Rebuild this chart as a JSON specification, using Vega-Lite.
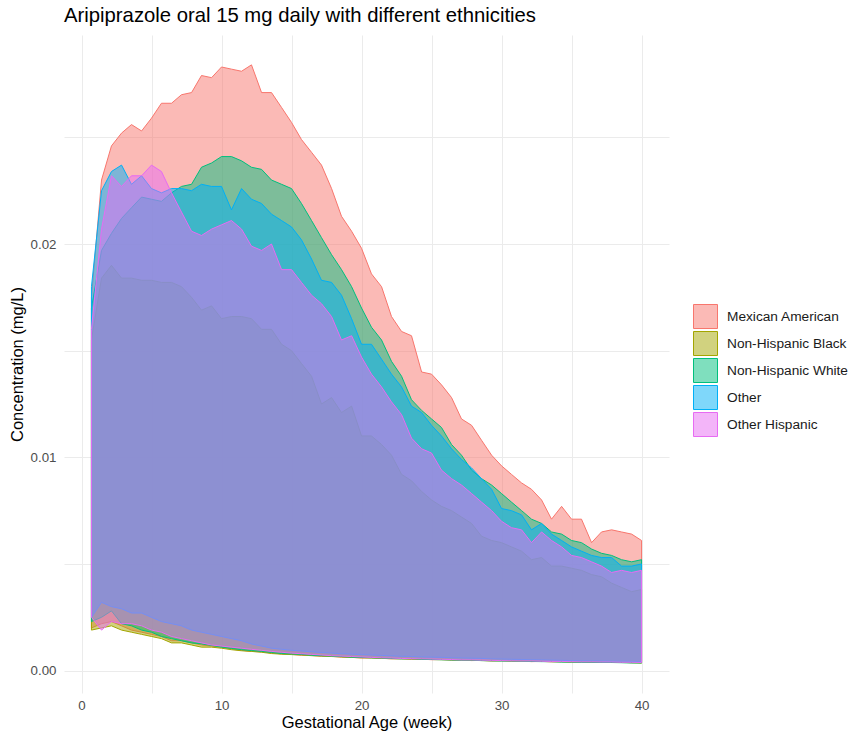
{
  "$schema": "https://vega.github.io/schema/vega-lite/v6.json",
  "autosize": {"type": "none"},
  "width": 605,
  "height": 658,
  "padding": {"left": 64, "top": 35, "right": 182, "bottom": 44},
  "background": "white",
  "title": {
    "text": "Aripiprazole oral 15 mg daily with different ethnicities",
    "anchor": "start",
    "frame": "group",
    "font": "Liberation Sans",
    "fontSize": 20.3,
    "fontWeight": "normal",
    "color": "#000000",
    "baseline": "alphabetic",
    "offset": 11,
    "dy": 18
  },
  "data": {
    "values": [
      {"g":"Mexican American","w":0.71,"lo":0.0020,"hi":0.0175},
      {"g":"Mexican American","w":1.43,"lo":0.0022,"hi":0.0230},
      {"g":"Mexican American","w":2.14,"lo":0.0023,"hi":0.0246},
      {"g":"Mexican American","w":2.86,"lo":0.0021,"hi":0.0252},
      {"g":"Mexican American","w":3.57,"lo":0.0019,"hi":0.0256},
      {"g":"Mexican American","w":4.29,"lo":0.0018,"hi":0.0253},
      {"g":"Mexican American","w":5.0,"lo":0.0017,"hi":0.0259},
      {"g":"Mexican American","w":5.71,"lo":0.0016,"hi":0.0266},
      {"g":"Mexican American","w":6.43,"lo":0.0014,"hi":0.0266},
      {"g":"Mexican American","w":7.14,"lo":0.0014,"hi":0.0270},
      {"g":"Mexican American","w":7.86,"lo":0.0013,"hi":0.0271},
      {"g":"Mexican American","w":8.57,"lo":0.0012,"hi":0.0279},
      {"g":"Mexican American","w":9.29,"lo":0.00115,"hi":0.0278},
      {"g":"Mexican American","w":10.0,"lo":0.0011,"hi":0.0283},
      {"g":"Mexican American","w":10.71,"lo":0.00102,"hi":0.0282},
      {"g":"Mexican American","w":11.43,"lo":0.00095,"hi":0.0281},
      {"g":"Mexican American","w":12.14,"lo":0.0009,"hi":0.0284},
      {"g":"Mexican American","w":12.86,"lo":0.00088,"hi":0.0271},
      {"g":"Mexican American","w":13.57,"lo":0.00083,"hi":0.0271},
      {"g":"Mexican American","w":14.29,"lo":0.00078,"hi":0.0264},
      {"g":"Mexican American","w":15.0,"lo":0.00076,"hi":0.0257},
      {"g":"Mexican American","w":15.71,"lo":0.00072,"hi":0.0249},
      {"g":"Mexican American","w":16.43,"lo":0.00071,"hi":0.0243},
      {"g":"Mexican American","w":17.14,"lo":0.00067,"hi":0.0237},
      {"g":"Mexican American","w":17.86,"lo":0.00067,"hi":0.0226},
      {"g":"Mexican American","w":18.57,"lo":0.00063,"hi":0.0213},
      {"g":"Mexican American","w":19.29,"lo":0.00062,"hi":0.0206},
      {"g":"Mexican American","w":20.0,"lo":0.00059,"hi":0.0198},
      {"g":"Mexican American","w":20.71,"lo":0.0006,"hi":0.0186},
      {"g":"Mexican American","w":21.43,"lo":0.00058,"hi":0.0180},
      {"g":"Mexican American","w":22.14,"lo":0.00055,"hi":0.0166},
      {"g":"Mexican American","w":22.86,"lo":0.00056,"hi":0.0159},
      {"g":"Mexican American","w":23.57,"lo":0.00053,"hi":0.0157},
      {"g":"Mexican American","w":24.29,"lo":0.00054,"hi":0.0140},
      {"g":"Mexican American","w":25.0,"lo":0.00051,"hi":0.0139},
      {"g":"Mexican American","w":25.71,"lo":0.00052,"hi":0.0134},
      {"g":"Mexican American","w":26.43,"lo":0.00049,"hi":0.0128},
      {"g":"Mexican American","w":27.14,"lo":0.0005,"hi":0.0118},
      {"g":"Mexican American","w":27.86,"lo":0.00047,"hi":0.0115},
      {"g":"Mexican American","w":28.57,"lo":0.00048,"hi":0.0108},
      {"g":"Mexican American","w":29.29,"lo":0.00045,"hi":0.0101},
      {"g":"Mexican American","w":30.0,"lo":0.00046,"hi":0.0096},
      {"g":"Mexican American","w":30.71,"lo":0.00044,"hi":0.0092},
      {"g":"Mexican American","w":31.43,"lo":0.00045,"hi":0.0088},
      {"g":"Mexican American","w":32.14,"lo":0.00042,"hi":0.0085},
      {"g":"Mexican American","w":32.86,"lo":0.00043,"hi":0.0080},
      {"g":"Mexican American","w":33.57,"lo":0.00041,"hi":0.0071},
      {"g":"Mexican American","w":34.29,"lo":0.00042,"hi":0.0077},
      {"g":"Mexican American","w":35.0,"lo":0.0004,"hi":0.0071},
      {"g":"Mexican American","w":35.71,"lo":0.00041,"hi":0.0071},
      {"g":"Mexican American","w":36.43,"lo":0.00039,"hi":0.0060},
      {"g":"Mexican American","w":37.14,"lo":0.0004,"hi":0.0065},
      {"g":"Mexican American","w":37.86,"lo":0.00038,"hi":0.0066},
      {"g":"Mexican American","w":38.57,"lo":0.00039,"hi":0.0065},
      {"g":"Mexican American","w":39.29,"lo":0.00037,"hi":0.0064},
      {"g":"Mexican American","w":40.0,"lo":0.00038,"hi":0.0061},

      {"g":"Non-Hispanic Black","w":0.71,"lo":0.0019,"hi":0.0155},
      {"g":"Non-Hispanic Black","w":1.43,"lo":0.0020,"hi":0.0184},
      {"g":"Non-Hispanic Black","w":2.14,"lo":0.0021,"hi":0.0190},
      {"g":"Non-Hispanic Black","w":2.86,"lo":0.0019,"hi":0.0184},
      {"g":"Non-Hispanic Black","w":3.57,"lo":0.0018,"hi":0.0184},
      {"g":"Non-Hispanic Black","w":4.29,"lo":0.0017,"hi":0.0183},
      {"g":"Non-Hispanic Black","w":5.0,"lo":0.0016,"hi":0.0183},
      {"g":"Non-Hispanic Black","w":5.71,"lo":0.0015,"hi":0.0182},
      {"g":"Non-Hispanic Black","w":6.43,"lo":0.0013,"hi":0.0182},
      {"g":"Non-Hispanic Black","w":7.14,"lo":0.0013,"hi":0.0180},
      {"g":"Non-Hispanic Black","w":7.86,"lo":0.0012,"hi":0.0175},
      {"g":"Non-Hispanic Black","w":8.57,"lo":0.0011,"hi":0.0169},
      {"g":"Non-Hispanic Black","w":9.29,"lo":0.0011,"hi":0.0171},
      {"g":"Non-Hispanic Black","w":10.0,"lo":0.00105,"hi":0.0165},
      {"g":"Non-Hispanic Black","w":10.71,"lo":0.00098,"hi":0.0166},
      {"g":"Non-Hispanic Black","w":11.43,"lo":0.00093,"hi":0.0166},
      {"g":"Non-Hispanic Black","w":12.14,"lo":0.0009,"hi":0.0165},
      {"g":"Non-Hispanic Black","w":12.86,"lo":0.00086,"hi":0.0160},
      {"g":"Non-Hispanic Black","w":13.57,"lo":0.0008,"hi":0.0160},
      {"g":"Non-Hispanic Black","w":14.29,"lo":0.00077,"hi":0.0153},
      {"g":"Non-Hispanic Black","w":15.0,"lo":0.00075,"hi":0.0150},
      {"g":"Non-Hispanic Black","w":15.71,"lo":0.00073,"hi":0.0144},
      {"g":"Non-Hispanic Black","w":16.43,"lo":0.0007,"hi":0.0138},
      {"g":"Non-Hispanic Black","w":17.14,"lo":0.00068,"hi":0.0125},
      {"g":"Non-Hispanic Black","w":17.86,"lo":0.00066,"hi":0.0128},
      {"g":"Non-Hispanic Black","w":18.57,"lo":0.00064,"hi":0.0121},
      {"g":"Non-Hispanic Black","w":19.29,"lo":0.00062,"hi":0.0124},
      {"g":"Non-Hispanic Black","w":20.0,"lo":0.0006,"hi":0.0110},
      {"g":"Non-Hispanic Black","w":20.71,"lo":0.00059,"hi":0.0110},
      {"g":"Non-Hispanic Black","w":21.43,"lo":0.00057,"hi":0.0106},
      {"g":"Non-Hispanic Black","w":22.14,"lo":0.00056,"hi":0.0101},
      {"g":"Non-Hispanic Black","w":22.86,"lo":0.00055,"hi":0.0092},
      {"g":"Non-Hispanic Black","w":23.57,"lo":0.00054,"hi":0.0089},
      {"g":"Non-Hispanic Black","w":24.29,"lo":0.00053,"hi":0.0084},
      {"g":"Non-Hispanic Black","w":25.0,"lo":0.00052,"hi":0.0080},
      {"g":"Non-Hispanic Black","w":25.71,"lo":0.00051,"hi":0.0077},
      {"g":"Non-Hispanic Black","w":26.43,"lo":0.0005,"hi":0.0075},
      {"g":"Non-Hispanic Black","w":27.14,"lo":0.00049,"hi":0.0072},
      {"g":"Non-Hispanic Black","w":27.86,"lo":0.00048,"hi":0.0069},
      {"g":"Non-Hispanic Black","w":28.57,"lo":0.00047,"hi":0.0063},
      {"g":"Non-Hispanic Black","w":29.29,"lo":0.00046,"hi":0.0061},
      {"g":"Non-Hispanic Black","w":30.0,"lo":0.00046,"hi":0.0060},
      {"g":"Non-Hispanic Black","w":30.71,"lo":0.00045,"hi":0.0058},
      {"g":"Non-Hispanic Black","w":31.43,"lo":0.00044,"hi":0.0056},
      {"g":"Non-Hispanic Black","w":32.14,"lo":0.00043,"hi":0.0052},
      {"g":"Non-Hispanic Black","w":32.86,"lo":0.00043,"hi":0.0053},
      {"g":"Non-Hispanic Black","w":33.57,"lo":0.00042,"hi":0.0049},
      {"g":"Non-Hispanic Black","w":34.29,"lo":0.00041,"hi":0.0049},
      {"g":"Non-Hispanic Black","w":35.0,"lo":0.0004,"hi":0.0048},
      {"g":"Non-Hispanic Black","w":35.71,"lo":0.0004,"hi":0.0047},
      {"g":"Non-Hispanic Black","w":36.43,"lo":0.0004,"hi":0.0045},
      {"g":"Non-Hispanic Black","w":37.14,"lo":0.00039,"hi":0.0044},
      {"g":"Non-Hispanic Black","w":37.86,"lo":0.00038,"hi":0.0041},
      {"g":"Non-Hispanic Black","w":38.57,"lo":0.00038,"hi":0.0039},
      {"g":"Non-Hispanic Black","w":39.29,"lo":0.00037,"hi":0.0037},
      {"g":"Non-Hispanic Black","w":40.0,"lo":0.00035,"hi":0.0038},

      {"g":"Non-Hispanic White","w":0.71,"lo":0.0023,"hi":0.0170},
      {"g":"Non-Hispanic White","w":1.43,"lo":0.0025,"hi":0.0197},
      {"g":"Non-Hispanic White","w":2.14,"lo":0.0028,"hi":0.0205},
      {"g":"Non-Hispanic White","w":2.86,"lo":0.0022,"hi":0.0212},
      {"g":"Non-Hispanic White","w":3.57,"lo":0.0021,"hi":0.0217},
      {"g":"Non-Hispanic White","w":4.29,"lo":0.0019,"hi":0.0222},
      {"g":"Non-Hispanic White","w":5.0,"lo":0.0018,"hi":0.0221},
      {"g":"Non-Hispanic White","w":5.71,"lo":0.0016,"hi":0.0220},
      {"g":"Non-Hispanic White","w":6.43,"lo":0.0015,"hi":0.0224},
      {"g":"Non-Hispanic White","w":7.14,"lo":0.0014,"hi":0.0227},
      {"g":"Non-Hispanic White","w":7.86,"lo":0.0013,"hi":0.0228},
      {"g":"Non-Hispanic White","w":8.57,"lo":0.00125,"hi":0.0236},
      {"g":"Non-Hispanic White","w":9.29,"lo":0.00118,"hi":0.0238},
      {"g":"Non-Hispanic White","w":10.0,"lo":0.0011,"hi":0.0241},
      {"g":"Non-Hispanic White","w":10.71,"lo":0.00104,"hi":0.0241},
      {"g":"Non-Hispanic White","w":11.43,"lo":0.00098,"hi":0.0239},
      {"g":"Non-Hispanic White","w":12.14,"lo":0.00094,"hi":0.0236},
      {"g":"Non-Hispanic White","w":12.86,"lo":0.0009,"hi":0.0235},
      {"g":"Non-Hispanic White","w":13.57,"lo":0.00085,"hi":0.0230},
      {"g":"Non-Hispanic White","w":14.29,"lo":0.0008,"hi":0.0228},
      {"g":"Non-Hispanic White","w":15.0,"lo":0.00078,"hi":0.0226},
      {"g":"Non-Hispanic White","w":15.71,"lo":0.00076,"hi":0.0219},
      {"g":"Non-Hispanic White","w":16.43,"lo":0.00072,"hi":0.0211},
      {"g":"Non-Hispanic White","w":17.14,"lo":0.0007,"hi":0.0203},
      {"g":"Non-Hispanic White","w":17.86,"lo":0.00068,"hi":0.0195},
      {"g":"Non-Hispanic White","w":18.57,"lo":0.00066,"hi":0.0188},
      {"g":"Non-Hispanic White","w":19.29,"lo":0.00063,"hi":0.0180},
      {"g":"Non-Hispanic White","w":20.0,"lo":0.00062,"hi":0.0170},
      {"g":"Non-Hispanic White","w":20.71,"lo":0.0006,"hi":0.0161},
      {"g":"Non-Hispanic White","w":21.43,"lo":0.00059,"hi":0.0155},
      {"g":"Non-Hispanic White","w":22.14,"lo":0.00057,"hi":0.0145},
      {"g":"Non-Hispanic White","w":22.86,"lo":0.00055,"hi":0.0138},
      {"g":"Non-Hispanic White","w":23.57,"lo":0.00056,"hi":0.0127},
      {"g":"Non-Hispanic White","w":24.29,"lo":0.00053,"hi":0.0122},
      {"g":"Non-Hispanic White","w":25.0,"lo":0.00052,"hi":0.0118},
      {"g":"Non-Hispanic White","w":25.71,"lo":0.00051,"hi":0.0114},
      {"g":"Non-Hispanic White","w":26.43,"lo":0.0005,"hi":0.0106},
      {"g":"Non-Hispanic White","w":27.14,"lo":0.00049,"hi":0.0101},
      {"g":"Non-Hispanic White","w":27.86,"lo":0.00049,"hi":0.0094},
      {"g":"Non-Hispanic White","w":28.57,"lo":0.00047,"hi":0.0090},
      {"g":"Non-Hispanic White","w":29.29,"lo":0.00046,"hi":0.0087},
      {"g":"Non-Hispanic White","w":30.0,"lo":0.00045,"hi":0.0083},
      {"g":"Non-Hispanic White","w":30.71,"lo":0.00045,"hi":0.0079},
      {"g":"Non-Hispanic White","w":31.43,"lo":0.00044,"hi":0.0075},
      {"g":"Non-Hispanic White","w":32.14,"lo":0.00043,"hi":0.0071},
      {"g":"Non-Hispanic White","w":32.86,"lo":0.00042,"hi":0.0069},
      {"g":"Non-Hispanic White","w":33.57,"lo":0.00042,"hi":0.0065},
      {"g":"Non-Hispanic White","w":34.29,"lo":0.0004,"hi":0.0064},
      {"g":"Non-Hispanic White","w":35.0,"lo":0.0004,"hi":0.0061},
      {"g":"Non-Hispanic White","w":35.71,"lo":0.00039,"hi":0.0060},
      {"g":"Non-Hispanic White","w":36.43,"lo":0.00039,"hi":0.0057},
      {"g":"Non-Hispanic White","w":37.14,"lo":0.00038,"hi":0.0055},
      {"g":"Non-Hispanic White","w":37.86,"lo":0.00038,"hi":0.0054},
      {"g":"Non-Hispanic White","w":38.57,"lo":0.00037,"hi":0.0052},
      {"g":"Non-Hispanic White","w":39.29,"lo":0.00036,"hi":0.0051},
      {"g":"Non-Hispanic White","w":40.0,"lo":0.00036,"hi":0.0052},

      {"g":"Other","w":0.71,"lo":0.0025,"hi":0.0180},
      {"g":"Other","w":1.43,"lo":0.0032,"hi":0.0225},
      {"g":"Other","w":2.14,"lo":0.0030,"hi":0.0234},
      {"g":"Other","w":2.86,"lo":0.0029,"hi":0.0237},
      {"g":"Other","w":3.57,"lo":0.0027,"hi":0.0228},
      {"g":"Other","w":4.29,"lo":0.0027,"hi":0.0232},
      {"g":"Other","w":5.0,"lo":0.0025,"hi":0.0226},
      {"g":"Other","w":5.71,"lo":0.0023,"hi":0.0224},
      {"g":"Other","w":6.43,"lo":0.0022,"hi":0.0226},
      {"g":"Other","w":7.14,"lo":0.0021,"hi":0.0226},
      {"g":"Other","w":7.86,"lo":0.0019,"hi":0.0225},
      {"g":"Other","w":8.57,"lo":0.0018,"hi":0.0228},
      {"g":"Other","w":9.29,"lo":0.0017,"hi":0.0227},
      {"g":"Other","w":10.0,"lo":0.0016,"hi":0.0227},
      {"g":"Other","w":10.71,"lo":0.0015,"hi":0.0216},
      {"g":"Other","w":11.43,"lo":0.0014,"hi":0.0226},
      {"g":"Other","w":12.14,"lo":0.00125,"hi":0.0221},
      {"g":"Other","w":12.86,"lo":0.00115,"hi":0.0219},
      {"g":"Other","w":13.57,"lo":0.00105,"hi":0.0214},
      {"g":"Other","w":14.29,"lo":0.001,"hi":0.0211},
      {"g":"Other","w":15.0,"lo":0.00095,"hi":0.0208},
      {"g":"Other","w":15.71,"lo":0.00092,"hi":0.0202},
      {"g":"Other","w":16.43,"lo":0.00088,"hi":0.0193},
      {"g":"Other","w":17.14,"lo":0.00085,"hi":0.0183},
      {"g":"Other","w":17.86,"lo":0.00082,"hi":0.0182},
      {"g":"Other","w":18.57,"lo":0.00079,"hi":0.0176},
      {"g":"Other","w":19.29,"lo":0.00077,"hi":0.0165},
      {"g":"Other","w":20.0,"lo":0.00075,"hi":0.0153},
      {"g":"Other","w":20.71,"lo":0.00073,"hi":0.0153},
      {"g":"Other","w":21.43,"lo":0.00071,"hi":0.0146},
      {"g":"Other","w":22.14,"lo":0.00069,"hi":0.0139},
      {"g":"Other","w":22.86,"lo":0.00067,"hi":0.0133},
      {"g":"Other","w":23.57,"lo":0.00066,"hi":0.0124},
      {"g":"Other","w":24.29,"lo":0.00064,"hi":0.0121},
      {"g":"Other","w":25.0,"lo":0.00063,"hi":0.0115},
      {"g":"Other","w":25.71,"lo":0.00062,"hi":0.0110},
      {"g":"Other","w":26.43,"lo":0.0006,"hi":0.0104},
      {"g":"Other","w":27.14,"lo":0.00059,"hi":0.0099},
      {"g":"Other","w":27.86,"lo":0.00058,"hi":0.0095},
      {"g":"Other","w":28.57,"lo":0.00057,"hi":0.0090},
      {"g":"Other","w":29.29,"lo":0.00055,"hi":0.0085},
      {"g":"Other","w":30.0,"lo":0.00054,"hi":0.0076},
      {"g":"Other","w":30.71,"lo":0.00053,"hi":0.0075},
      {"g":"Other","w":31.43,"lo":0.00052,"hi":0.0073},
      {"g":"Other","w":32.14,"lo":0.00051,"hi":0.0066},
      {"g":"Other","w":32.86,"lo":0.0005,"hi":0.0069},
      {"g":"Other","w":33.57,"lo":0.00049,"hi":0.0064},
      {"g":"Other","w":34.29,"lo":0.00048,"hi":0.0061},
      {"g":"Other","w":35.0,"lo":0.00047,"hi":0.0058},
      {"g":"Other","w":35.71,"lo":0.00046,"hi":0.0056},
      {"g":"Other","w":36.43,"lo":0.00046,"hi":0.0054},
      {"g":"Other","w":37.14,"lo":0.00045,"hi":0.0053},
      {"g":"Other","w":37.86,"lo":0.00044,"hi":0.0053},
      {"g":"Other","w":38.57,"lo":0.00044,"hi":0.0049},
      {"g":"Other","w":39.29,"lo":0.00043,"hi":0.0049},
      {"g":"Other","w":40.0,"lo":0.00042,"hi":0.0050},

      {"g":"Other Hispanic","w":0.71,"lo":0.0025,"hi":0.0160},
      {"g":"Other Hispanic","w":1.43,"lo":0.0019,"hi":0.0207},
      {"g":"Other Hispanic","w":2.14,"lo":0.0023,"hi":0.0232},
      {"g":"Other Hispanic","w":2.86,"lo":0.0022,"hi":0.0227},
      {"g":"Other Hispanic","w":3.57,"lo":0.0022,"hi":0.0232},
      {"g":"Other Hispanic","w":4.29,"lo":0.0021,"hi":0.0232},
      {"g":"Other Hispanic","w":5.0,"lo":0.0019,"hi":0.0237},
      {"g":"Other Hispanic","w":5.71,"lo":0.0018,"hi":0.0234},
      {"g":"Other Hispanic","w":6.43,"lo":0.0016,"hi":0.0224},
      {"g":"Other Hispanic","w":7.14,"lo":0.0015,"hi":0.0215},
      {"g":"Other Hispanic","w":7.86,"lo":0.0014,"hi":0.0206},
      {"g":"Other Hispanic","w":8.57,"lo":0.0013,"hi":0.0204},
      {"g":"Other Hispanic","w":9.29,"lo":0.0012,"hi":0.0207},
      {"g":"Other Hispanic","w":10.0,"lo":0.00115,"hi":0.0209},
      {"g":"Other Hispanic","w":10.71,"lo":0.0011,"hi":0.0211},
      {"g":"Other Hispanic","w":11.43,"lo":0.00105,"hi":0.0207},
      {"g":"Other Hispanic","w":12.14,"lo":0.001,"hi":0.0199},
      {"g":"Other Hispanic","w":12.86,"lo":0.00095,"hi":0.0197},
      {"g":"Other Hispanic","w":13.57,"lo":0.0009,"hi":0.0200},
      {"g":"Other Hispanic","w":14.29,"lo":0.00086,"hi":0.0188},
      {"g":"Other Hispanic","w":15.0,"lo":0.00082,"hi":0.0188},
      {"g":"Other Hispanic","w":15.71,"lo":0.00079,"hi":0.0182},
      {"g":"Other Hispanic","w":16.43,"lo":0.00076,"hi":0.0176},
      {"g":"Other Hispanic","w":17.14,"lo":0.00073,"hi":0.0172},
      {"g":"Other Hispanic","w":17.86,"lo":0.0007,"hi":0.0166},
      {"g":"Other Hispanic","w":18.57,"lo":0.00068,"hi":0.0155},
      {"g":"Other Hispanic","w":19.29,"lo":0.00066,"hi":0.0157},
      {"g":"Other Hispanic","w":20.0,"lo":0.00064,"hi":0.0147},
      {"g":"Other Hispanic","w":20.71,"lo":0.00062,"hi":0.0139},
      {"g":"Other Hispanic","w":21.43,"lo":0.0006,"hi":0.0133},
      {"g":"Other Hispanic","w":22.14,"lo":0.00059,"hi":0.0126},
      {"g":"Other Hispanic","w":22.86,"lo":0.00057,"hi":0.0120},
      {"g":"Other Hispanic","w":23.57,"lo":0.00056,"hi":0.0109},
      {"g":"Other Hispanic","w":24.29,"lo":0.00055,"hi":0.0104},
      {"g":"Other Hispanic","w":25.0,"lo":0.00054,"hi":0.0102},
      {"g":"Other Hispanic","w":25.71,"lo":0.00053,"hi":0.0094},
      {"g":"Other Hispanic","w":26.43,"lo":0.00052,"hi":0.0090},
      {"g":"Other Hispanic","w":27.14,"lo":0.0005,"hi":0.0087},
      {"g":"Other Hispanic","w":27.86,"lo":0.0005,"hi":0.0083},
      {"g":"Other Hispanic","w":28.57,"lo":0.00049,"hi":0.0079},
      {"g":"Other Hispanic","w":29.29,"lo":0.00048,"hi":0.0075},
      {"g":"Other Hispanic","w":30.0,"lo":0.00047,"hi":0.0070},
      {"g":"Other Hispanic","w":30.71,"lo":0.00046,"hi":0.0067},
      {"g":"Other Hispanic","w":31.43,"lo":0.00045,"hi":0.0066},
      {"g":"Other Hispanic","w":32.14,"lo":0.00045,"hi":0.0060},
      {"g":"Other Hispanic","w":32.86,"lo":0.00044,"hi":0.0065},
      {"g":"Other Hispanic","w":33.57,"lo":0.00043,"hi":0.0061},
      {"g":"Other Hispanic","w":34.29,"lo":0.00043,"hi":0.0058},
      {"g":"Other Hispanic","w":35.0,"lo":0.00042,"hi":0.0054},
      {"g":"Other Hispanic","w":35.71,"lo":0.00041,"hi":0.0053},
      {"g":"Other Hispanic","w":36.43,"lo":0.00041,"hi":0.0051},
      {"g":"Other Hispanic","w":37.14,"lo":0.0004,"hi":0.0049},
      {"g":"Other Hispanic","w":37.86,"lo":0.0004,"hi":0.0046},
      {"g":"Other Hispanic","w":38.57,"lo":0.00039,"hi":0.0047},
      {"g":"Other Hispanic","w":39.29,"lo":0.00039,"hi":0.0046},
      {"g":"Other Hispanic","w":40.0,"lo":0.00038,"hi":0.0047}
    ]
  },
  "mark": {"type": "area", "fillOpacity": 0.5, "strokeOpacity": 1, "strokeWidth": 1, "interpolate": "linear", "clip": true},
  "encoding": {
    "x": {
      "field": "w",
      "type": "quantitative",
      "scale": {"domain": [-1.25, 41.96], "nice": false, "zero": false},
      "axis": {
        "title": "Gestational Age (week)",
        "values": [0, 5, 10, 15, 20, 25, 30, 35, 40],
        "labelExpr": "datum.value % 10 === 0 ? format(datum.value, 'd') : ''",
        "grid": true,
        "gridColor": "#EBEBEB",
        "gridWidth": 1,
        "domain": false,
        "ticks": false,
        "labelColor": "#4D4D4D",
        "labelFont": "Liberation Sans",
        "labelFontSize": 13.3,
        "labelPadding": 5,
        "titleFont": "Liberation Sans",
        "titleFontSize": 16.5,
        "titleFontWeight": "normal",
        "titleColor": "#000000",
        "titlePadding": 3
      }
    },
    "y": {
      "field": "hi",
      "type": "quantitative",
      "scale": {"domain": [-0.00105, 0.0298], "nice": false, "zero": false},
      "axis": {
        "title": "Concentration (mg/L)",
        "values": [0, 0.005, 0.01, 0.015, 0.02, 0.025],
        "labelExpr": "(round(datum.value * 1000) % 10 === 0) ? format(datum.value, '.2f') : ''",
        "grid": true,
        "gridColor": "#EBEBEB",
        "gridWidth": 1,
        "domain": false,
        "ticks": false,
        "labelColor": "#4D4D4D",
        "labelFont": "Liberation Sans",
        "labelFontSize": 13.3,
        "labelPadding": 8,
        "titleFont": "Liberation Sans",
        "titleFontSize": 16.5,
        "titleFontWeight": "normal",
        "titleColor": "#000000",
        "titlePadding": 5
      }
    },
    "y2": {"field": "lo"},
    "fill": {
      "field": "g",
      "type": "nominal",
      "scale": {
        "domain": ["Mexican American", "Non-Hispanic Black", "Non-Hispanic White", "Other", "Other Hispanic"],
        "range": ["#F8766D", "#A3A500", "#00BF7D", "#00B0F6", "#E76BF3"]
      },
      "legend": {
        "title": null,
        "orient": "none",
        "legendX": 629,
        "legendY": 269,
        "padding": 0,
        "symbolType": "square",
        "symbolSize": 576,
        "symbolStrokeWidth": 1,
        "rowPadding": -5,
        "labelOffset": 9,
        "labelFont": "Liberation Sans",
        "labelFontSize": 13.7,
        "labelColor": "#1A1A1A",
        "encode": {"symbols": {"update": {"fillOpacity": {"value": 0.5}, "strokeOpacity": {"value": 1}}}}
      }
    },
    "stroke": {
      "field": "g",
      "type": "nominal",
      "scale": {
        "domain": ["Mexican American", "Non-Hispanic Black", "Non-Hispanic White", "Other", "Other Hispanic"],
        "range": ["#F8766D", "#A3A500", "#00BF7D", "#00B0F6", "#E76BF3"]
      },
      "legend": {
        "title": null,
        "orient": "none",
        "legendX": 629,
        "legendY": 269,
        "padding": 0,
        "symbolType": "square",
        "symbolSize": 576,
        "symbolStrokeWidth": 1,
        "rowPadding": -5,
        "labelOffset": 9,
        "labelFont": "Liberation Sans",
        "labelFontSize": 13.7,
        "labelColor": "#1A1A1A",
        "encode": {"symbols": {"update": {"fillOpacity": {"value": 0.5}, "strokeOpacity": {"value": 1}}}}
      }
    }
  },
  "config": {"view": {"stroke": null}}
}
